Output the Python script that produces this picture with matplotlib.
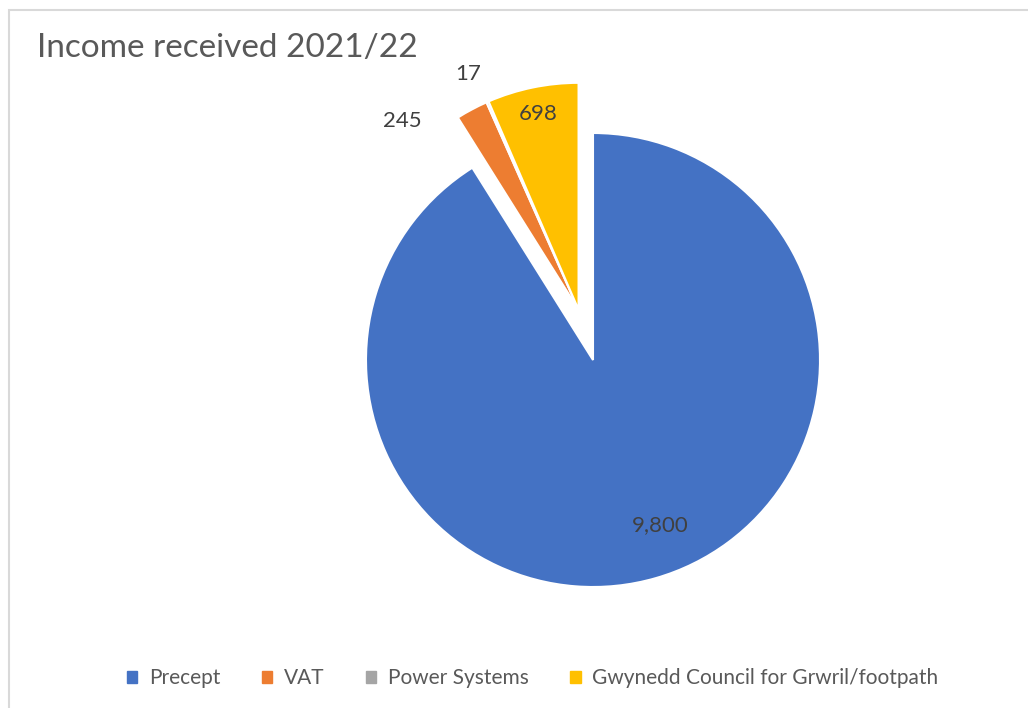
import numpy as np
import matplotlib.pyplot as plt
from matplotlib.patches import Patch, Rectangle

plt.rcParams['font.family'] = ['Lato', 'DejaVu Sans']

# data
categories = ["Precept", "VAT", "Power Systems", "Gwynedd Council for Grwril/footpath"]
values = [9800, 245, 17, 698]
value_labels = ["9,800", "245", "17", "698"]
colors = ["#4472C4", "#ED7D31", "#A5A5A5", "#FFC000"]

# label placement (fraction of radius, angle nudge in degrees)
label_r = [0.785, 1.14, 1.15, 0.88]
label_nudge = [6, 15, 1.5, 0]

W, H = 1028, 708
cx, cy, R = 593, 360, 227

fig = plt.figure(figsize=(W / 100, H / 100), dpi=100)
ax = fig.add_axes([0, 0, 1, 1])

wedges, _ = ax.pie(values, colors=colors, startangle=90, counterclock=False,
                   radius=1, wedgeprops=dict(edgecolor="white", linewidth=1.5))

# the three small slices are pulled out together along their common bisector
t1 = min(w.theta1 for w in wedges[1:])
t2 = max(w.theta2 for w in wedges[1:])
mid = np.deg2rad((t1 + t2) / 2)
shift = 0.23
off = (shift * np.cos(mid), shift * np.sin(mid))
for w in wedges[1:]:
    w.set_center(off)

for i, w in enumerate(wedges):
    c = w.center
    a = np.deg2rad((w.theta1 + w.theta2) / 2 + label_nudge[i])
    ax.text(c[0] + label_r[i] * np.cos(a), c[1] + label_r[i] * np.sin(a),
            value_labels[i], ha="center", va="center", fontsize=16, color="#404040")

ax.set_xlim(-cx / R, (W - cx) / R)
ax.set_ylim(-(H - cy) / R, cy / R)
ax.axis("off")

fig.text(37 / W, 1 - 48 / H, "Income received 2021/22", fontsize=24,
         color="#595959", va="center", ha="left")

handles = [Patch(facecolor=c, edgecolor=c) for c in colors]
fig.legend(handles, categories, loc="center", bbox_to_anchor=(0.518, 1 - 678 / H),
           ncol=4, frameon=False, fontsize=15, handlelength=0.5, handleheight=0.5,
           handletextpad=0.55, columnspacing=2.0, labelcolor="#595959")

fig.add_artist(Rectangle((9 / W, -0.1), 2, 1 - 10 / H + 0.1, transform=fig.transFigure,
                         facecolor="none", edgecolor="#D9D9D9", linewidth=1.5))

fig.savefig("out.png", dpi=100)
